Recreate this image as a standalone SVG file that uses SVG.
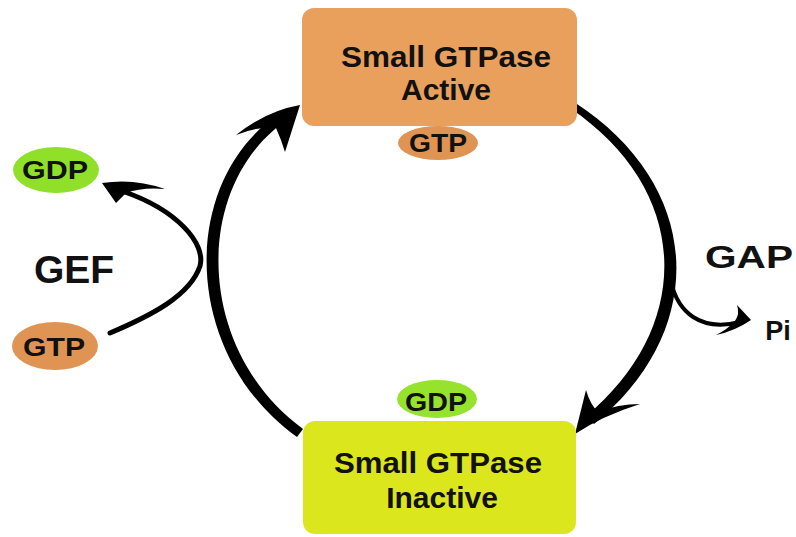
<svg xmlns="http://www.w3.org/2000/svg" width="796" height="537" viewBox="0 0 796 537">
<style>
.t{font-family:"Liberation Sans",Arial,sans-serif;font-weight:bold;fill:#111;text-anchor:middle}
.box{stroke:none}
.ink{fill:#000;stroke:none}
.thin{fill:none;stroke:#000;stroke-linecap:round}
</style>
<rect width="796" height="537" fill="#fff"/>
<g id="connectors">
  <!-- left arc (inactive -> active) -->
  <path class="ink" d="M297 437 C178 352 178 172 288 108 L293 116 C192 178 192 348 303 429 Z"/>
  <path class="ink" d="M300 105 Q266 111 236 135 Q258 126 276 128 Q281 139 285 152 Z"/>
  <!-- GEF branch GTP in, GDP out -->
  <path class="thin" stroke-width="5" d="M110 333 C150 316 190 296 200 266 C206 244 178 210 122 191"/>
  <path class="ink" d="M102 183 Q134 178 165 189 Q142 187 126 193 L116 203 Z"/>
  <!-- right arc (active -> inactive) -->
  <path class="ink" d="M574 102 C707 188 707 333 594 424 L586 416 C693 327 693 192 570 108 Z"/>
  <path class="ink" d="M575 434 L586 390 Q590 404 598 412 Q618 404 640 404 Q602 416 575 434 Z"/>
  <!-- GAP branch Pi out -->
  <path class="thin" stroke-width="4" d="M671 282 C678 312 700 332 740 322"/>
  <path class="ink" d="M751 320 L737 305 Q740 314 735 321 Q728 329 716 335 Q735 331 751 320 Z"/>
</g>
<g id="active">
  <rect class="box" x="302" y="8" width="275" height="118" rx="12" fill="#E9A05C"/>
  <text class="t" x="446" y="67" font-size="30" textLength="210" lengthAdjust="spacingAndGlyphs">Small GTPase</text>
  <text class="t" x="446" y="100" font-size="30">Active</text>
</g>
<g id="gtp-bound">
  <ellipse cx="438" cy="143" rx="40" ry="17" fill="#DF9453"/>
  <text class="t" x="438" y="152" font-size="25" textLength="58" lengthAdjust="spacingAndGlyphs">GTP</text>
</g>
<g id="inactive">
  <rect class="box" x="303" y="421" width="273" height="113" rx="12" fill="#DCE61C"/>
  <text class="t" x="438" y="473" font-size="30" textLength="208" lengthAdjust="spacingAndGlyphs">Small GTPase</text>
  <text class="t" x="442" y="508" font-size="30">Inactive</text>
</g>
<g id="gdp-bound">
  <ellipse cx="437" cy="399" rx="40" ry="19" fill="#96E22C"/>
  <text class="t" x="436" y="411" font-size="25" textLength="62" lengthAdjust="spacingAndGlyphs">GDP</text>
</g>
<g id="gdp-out">
  <ellipse cx="56" cy="170" rx="43" ry="23" fill="#90E02A"/>
  <text class="t" x="55" y="179" font-size="25" textLength="66" lengthAdjust="spacingAndGlyphs">GDP</text>
</g>
<g id="gtp-in">
  <ellipse cx="55" cy="346" rx="43" ry="24" fill="#DF9453"/>
  <text class="t" x="54" y="356" font-size="26" textLength="62" lengthAdjust="spacingAndGlyphs">GTP</text>
</g>
<g id="gef">
  <text class="t" x="74" y="283" font-size="39">GEF</text>
</g>
<g id="gap">
  <text class="t" x="749" y="268" font-size="32" textLength="88" lengthAdjust="spacingAndGlyphs">GAP</text>
</g>
<g id="pi">
  <text class="t" x="778" y="340" font-size="27">Pi</text>
</g>
</svg>
